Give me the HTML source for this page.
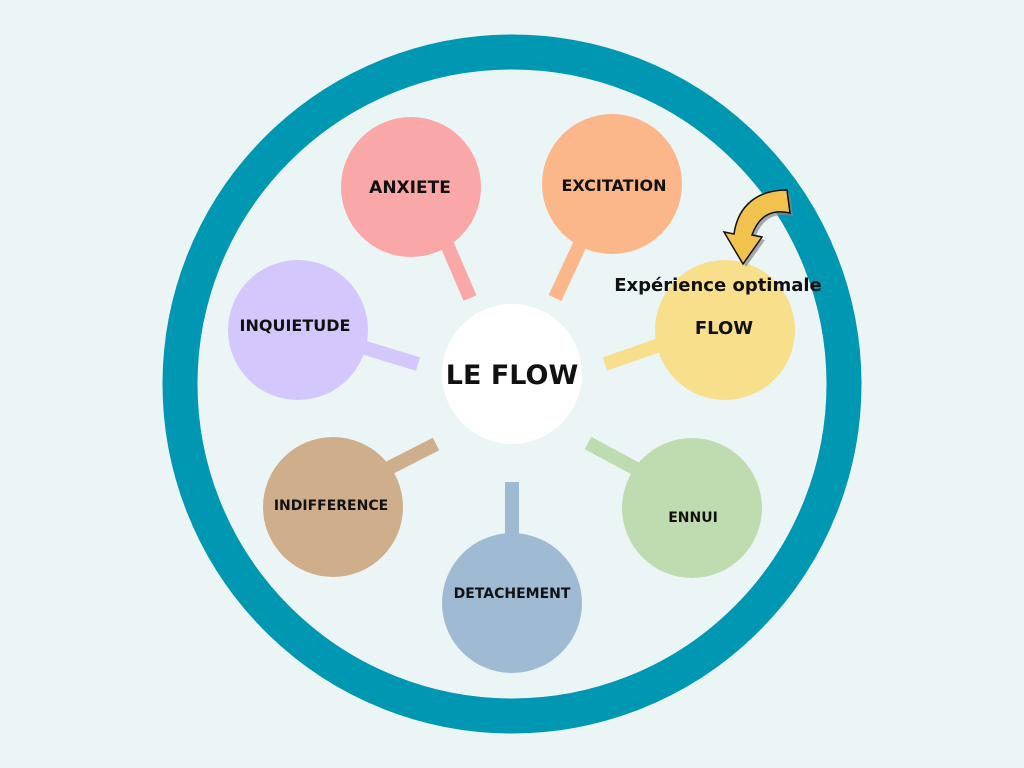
<!DOCTYPE html>
<html><head><meta charset="utf-8"><style>
html,body{margin:0;padding:0;background:#ebf5f5}
svg{display:block}
text{font-family:"DejaVu Sans","Liberation Sans",sans-serif;font-weight:bold;text-anchor:middle;fill:#111}
</style></head><body>
<svg width="1024" height="768" viewBox="0 0 1024 768">
<rect width="1024" height="768" fill="#ebf5f5"/>
<circle cx="512" cy="384" r="332" fill="none" stroke="#0097b2" stroke-width="35"/>
<g stroke-width="14" stroke-linecap="butt">
<line x1="445" y1="240" x2="470" y2="298" stroke="#f9a7a7"/>
<line x1="582" y1="240" x2="555" y2="298" stroke="#fbb68a"/>
<line x1="662" y1="344" x2="605" y2="364" stroke="#f7df8b"/>
<line x1="362" y1="347" x2="418" y2="364" stroke="#d3c7fb"/>
<line x1="436" y1="444" x2="385" y2="470" stroke="#cfae8c"/>
<line x1="512" y1="482" x2="512" y2="540" stroke="#9fbbd3"/>
<line x1="588" y1="443" x2="638" y2="470" stroke="#bfdcb0"/>
</g>
<circle cx="411" cy="187" r="70" fill="#f9a7a7"/>
<circle cx="612" cy="184" r="70" fill="#fbb68a"/>
<circle cx="725" cy="330" r="70" fill="#f7df8b"/>
<circle cx="298" cy="330" r="70" fill="#d3c7fb"/>
<circle cx="333" cy="507" r="70" fill="#cfae8c"/>
<circle cx="512" cy="603" r="70" fill="#9fbbd3"/>
<circle cx="692" cy="508" r="70" fill="#bfdcb0"/>
<circle cx="512" cy="374" r="70" fill="#ffffff"/>
<text x="410" y="193" font-size="17">ANXIETE</text>
<text x="614" y="191" font-size="16">EXCITATION</text>
<text x="295" y="331" font-size="16">INQUIETUDE</text>
<text x="724" y="334" font-size="18">FLOW</text>
<text x="718" y="291" font-size="18">Expérience optimale</text>
<text x="512" y="384" font-size="27">LE FLOW</text>
<text x="331" y="510" font-size="14">INDIFFERENCE</text>
<text x="512" y="598" font-size="14">DETACHEMENT</text>
<text x="693" y="522" font-size="14" fill="#444">ENNUI</text>
<g transform="translate(3,3)" fill="#888" opacity="0.7">
<path d="M787,190 L790,213 C770,208 758,218 752,235 L762,237 L743,264 L724,232 L734,234 C738,205 758,190 787,190 Z"/>
</g>
<path d="M787,190 L790,213 C770,208 758,218 752,235 L762,237 L743,264 L724,232 L734,234 C738,205 758,190 787,190 Z" fill="#f2c24f" stroke="#111" stroke-width="1.5"/>
</svg>
</body></html>
